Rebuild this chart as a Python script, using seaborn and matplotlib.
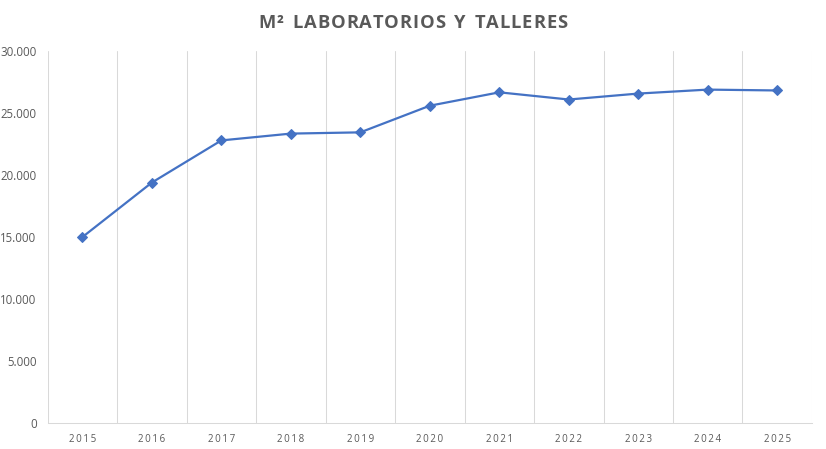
import matplotlib
matplotlib.use("Agg")
import matplotlib.pyplot as plt
import seaborn as sns
import pandas as pd
import numpy as np
from matplotlib.ticker import FuncFormatter, FixedLocator

years = ["2015", "2016", "2017", "2018", "2019", "2020", "2021", "2022", "2023", "2024", "2025"]
m2 = [15000, 19400, 22800, 23350, 23450, 25600, 26680, 26100, 26580, 26900, 26830]
y_ticks = [0, 5000, 10000, 15000, 20000, 25000, 30000]
title = "M² LABORATORIOS Y TALLERES"

sns.set_theme(style="white")
plt.rcParams['font.family'] = ['Open Sans', 'DejaVu Sans']

df = pd.DataFrame({"year": years, "m2": m2})

fig = plt.figure(figsize=(8.26, 4.49), dpi=100)
ax = fig.add_axes([0.0577, 0.058, 0.9253, 0.828])

sns.lineplot(data=df, x="year", y="m2", ax=ax, color="#4472C4", linewidth=1.6,
             marker="D", markersize=5, markeredgecolor="#4472C4", sort=False)

n = len(years)
ax.set_xlim(-0.5, n - 0.5)
ax.set_ylim(0, 30000)
ax.set_yticks(y_ticks)
ax.yaxis.set_major_formatter(FuncFormatter(lambda v, p: f"{int(v):,}".replace(",", ".")))
ax.xaxis.set_minor_locator(FixedLocator(np.arange(-0.5, n, 1.0)))
ax.grid(False)
ax.grid(True, axis="x", which="minor", color="#D9D9D9", linewidth=0.75)
ax.set_axisbelow(True)
for s in ["top", "right", "left"]:
    ax.spines[s].set_visible(False)
ax.spines["bottom"].set_color("#D9D9D9")
ax.spines["bottom"].set_linewidth(0.75)
ax.tick_params(axis="both", which="both", length=0)
ax.tick_params(axis="y", labelsize=8.3, labelcolor="#595959", pad=8)
ax.tick_params(axis="x", labelcolor="#595959", pad=8)
ax.set_xticks(range(n))
ax.set_xticklabels(["\u2009".join(list(y)) for y in years], fontsize=7)
ax.set_xlabel("")
ax.set_ylabel("")

# letter-spaced title drawn character by character
fig.canvas.draw()
renderer = fig.canvas.get_renderer()
fs = 13.2
spacing = 0.9  # px between letters
tmp = []
widths = []
for ch in title:
    t = fig.text(0, 0, ch if ch != " " else "\u00a0", fontsize=fs, fontweight="bold", color="#595959")
    bb = t.get_window_extent(renderer)
    w = bb.width
    if ch == " ":
        t2 = fig.text(0, 0, "i", fontsize=fs, fontweight="bold")
        w = t2.get_window_extent(renderer).width * 1.2
        t2.remove()
    widths.append(w)
    tmp.append(t)
total = sum(widths) + spacing * (len(title) - 1)
W = fig.get_figwidth() * fig.dpi
x = (W - total) / 2
for t, w in zip(tmp, widths):
    t.set_position((x / W, 0.949))
    t.set_va("center")
    x += w + spacing

fig.savefig("out.png", dpi=100)
